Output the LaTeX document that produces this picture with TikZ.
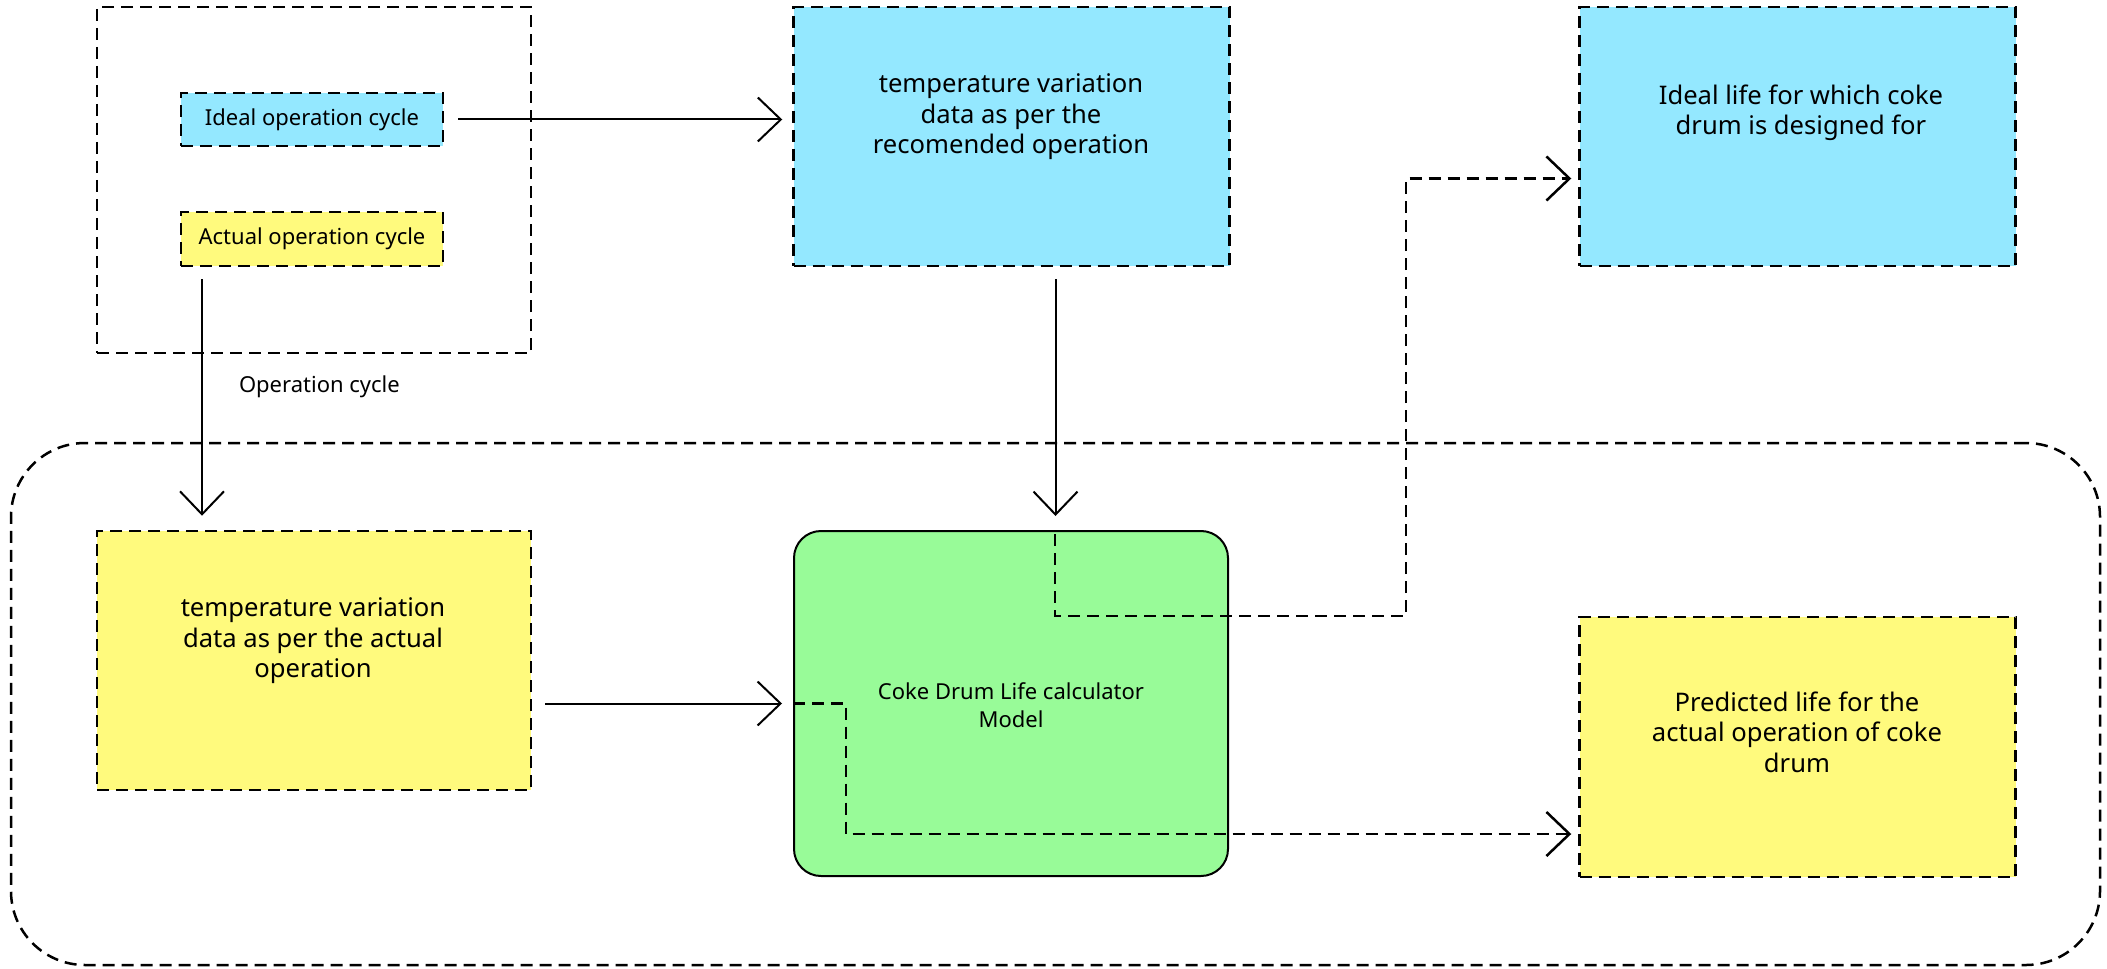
\documentclass[tikz,border=0pt]{standalone}
\usepackage{fontspec}
\setmainfont{Noto Sans}
\usetikzlibrary{arrows.meta}

\definecolor{idealblue}{RGB}{148,232,255}
\definecolor{actualyellow}{RGB}{255,250,125}
\definecolor{modelgreen}{RGB}{152,251,152}

\tikzset{every picture/.style={line width=1pt}}
\tikzset{
  dashbox/.style={draw, line width=1.25pt, dash pattern={on 6pt off 3.5pt}, inner sep=0pt},
  bigbox/.style={dashbox, minimum width=218pt, minimum height=129.5pt},
  cyclebox/.style={dashbox, minimum width=131pt, minimum height=26.5pt, font=\fontsize{11}{13}\selectfont},
  bigtext/.style={align=center, inner sep=0pt, font=\fontsize{12.8}{15.2}\selectfont},
  smalltext/.style={align=center, inner sep=0pt, font=\fontsize{11}{14}\selectfont},
  solidarr/.style={-{Straight Barb[length=11.5pt,width=22pt]}},
  dasharr/.style={line width=1.25pt, dash pattern={on 6pt off 3.5pt}, -{Straight Barb[length=11.5pt,width=22pt]}}
}

\begin{document}
\begin{tikzpicture}[x=0.5pt,y=0.5pt,yscale=-1,xscale=1]
            \useasboundingbox (0,0) rectangle (2107,968);

            %Shape: Rounded Rect [id:region]
            \node [dashbox, rounded corners=37pt, minimum width=1044.5pt, minimum height=261pt] (region) at (1055.5,704) {};
            %Shape: Rectangle [id:cyclegroup]
            \node [dashbox, minimum width=217pt, minimum height=173pt] (cyclegroup) at (314,180) {};

            %Shape: Rectangle [id:idealcycle]
            \node [cyclebox, fill=idealblue] (idealcycle) at (312,119.5) {Ideal operation cycle};
            %Shape: Rectangle [id:actualcycle]
            \node [cyclebox, fill=actualyellow, minimum height=27pt] (actualcycle) at (312,239) {Actual operation cycle};

            %Shape: Rectangle [id:recdata]
            \node [bigbox, fill=idealblue] (recdata) at (1011.5,136.5) {};
            %Shape: Rectangle [id:ideallife]
            \node [bigbox, fill=idealblue] (ideallife) at (1797.5,136.5) {};
            %Shape: Rectangle [id:actdata]
            \node [bigbox, fill=actualyellow, minimum width=217pt] (actdata) at (314,660.5) {};
            %Shape: Rectangle [id:predlife]
            \node [bigbox, fill=actualyellow, minimum height=130pt] (predlife) at (1797.5,747) {};
            %Shape: Rounded Rect [id:model]
            \node [draw, fill=modelgreen, rounded corners=13.5pt, minimum width=217pt, minimum height=172.5pt, inner sep=0pt] (model) at (1011,703.5) {};

            % Text Node
            \node [bigtext] (recdatatext) at (1011,117) {temperature variation\\data as per the\\recomended operation};
            % Text Node
            \node [bigtext] (ideallifetext) at (1801,113) {Ideal life for which coke\\drum is designed for};
            % Text Node
            \node [bigtext] (actdatatext) at (313,641) {temperature variation\\data as per the actual\\operation};
            % Text Node
            \node [bigtext] (predlifetext) at (1797,732) {Predicted life for the\\actual operation of coke\\drum};
            % Text Node
            \node [smalltext] (modeltext) at (1011,705) {Coke Drum Life calculator\\Model};

            %Straight Lines [id:idealtorec]
            \draw [solidarr, shorten <=7pt, shorten >=5pt] (idealcycle.east) -- (idealcycle.east -| recdata.west) ;
            %Straight Lines [id:actualtoact]
            \coordinate (cyclex) at ([xshift=-55pt]actualcycle.south);
            \draw [solidarr, shorten <=6pt, shorten >=7pt] (cyclex) -- (cyclex |- actdata.north)
              node [pos=0.456, right=15pt, smalltext, inner sep=3pt] (cyclelabel) {Operation cycle};
            %Straight Lines [id:rectomodel]
            \coordinate (recx) at ([xshift=22pt]recdata.south);
            \draw [solidarr, shorten <=6pt, shorten >=7pt] (recx) -- (recx |- model.north) ;
            %Straight Lines [id:acttomodel]
            \draw [solidarr, shorten <=6.5pt, shorten >=5.5pt] (model.west -| actdata.east) -- (model.west) ;

            %Connector [id:modeltoideal]
            \draw [dasharr, shorten >=3.5pt] ([xshift=22pt,yshift=2pt]model.north) -- ++(0,82) -- ++(351,0) |- ([yshift=21pt]ideallife.west) ;
            %Connector [id:modeltopred]
            \draw [dasharr, shorten >=3.5pt] (model.west) -- ++(53,0) |- ([yshift=43.5pt]predlife.west) ;

\end{tikzpicture}
\end{document}
